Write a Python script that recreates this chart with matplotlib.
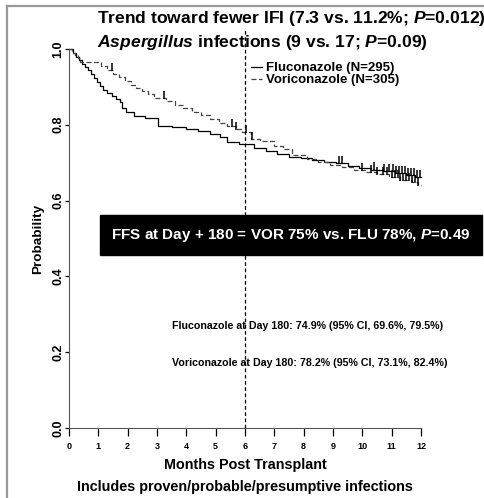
import numpy as np
import matplotlib
matplotlib.use('Agg')
import matplotlib.pyplot as plt
from matplotlib.lines import Line2D

plt.rcParams['font.family'] = ['Liberation Sans', 'DejaVu Sans']
plt.rcParams['font.weight'] = 'bold'
plt.rcParams['axes.labelweight'] = 'bold'
plt.rcParams['mathtext.fontset'] = 'custom'
plt.rcParams['mathtext.rm'] = 'Liberation Sans:bold'
plt.rcParams['mathtext.it'] = 'Liberation Sans:italic:bold'
plt.rcParams['mathtext.bf'] = 'Liberation Sans:bold'

# Kaplan-Meier steps
flu_time = [0, 0.15, 0.25, 0.35, 0.45, 0.55, 0.65, 0.75, 0.85, 0.95, 1.05, 1.15, 1.3, 1.45,
            1.6, 1.75, 1.8, 1.95, 2.2, 2.6, 3.05, 3.5, 4.0, 4.4, 4.8, 5.15, 5.4, 5.8, 6.3,
            6.7, 7.1, 7.5, 7.9, 8.3, 8.7, 9.1, 9.5, 9.9, 10.3, 10.7, 11.1, 11.5, 11.8, 12.0]
flu_surv = [1.0, 0.99, 0.98, 0.97, 0.96, 0.952, 0.945, 0.935, 0.923, 0.912, 0.902, 0.892,
            0.885, 0.876, 0.868, 0.86, 0.845, 0.835, 0.823, 0.818, 0.797, 0.794, 0.79, 0.783,
            0.775, 0.768, 0.755, 0.749, 0.738, 0.732, 0.724, 0.716, 0.712, 0.707, 0.702,
            0.698, 0.692, 0.686, 0.682, 0.678, 0.672, 0.667, 0.662, 0.662]
vor_time = [0, 0.1, 0.2, 0.3, 0.37, 1.1, 1.3, 1.5, 1.7, 1.9, 2.1, 2.3, 2.5, 2.7, 2.9, 3.3,
            3.6, 3.9, 4.2, 4.5, 4.8, 5.1, 5.4, 5.7, 5.9, 6.2, 6.5, 7.0, 7.3, 7.6, 8.1, 8.5,
            8.9, 9.3, 9.7, 10.1, 10.5, 10.9, 11.3, 11.7, 11.9, 12.0]
vor_surv = [1.0, 0.99, 0.985, 0.975, 0.966, 0.955, 0.945, 0.935, 0.925, 0.915, 0.905, 0.897,
            0.889, 0.88, 0.87, 0.862, 0.853, 0.845, 0.835, 0.825, 0.815, 0.806, 0.797, 0.79,
            0.782, 0.762, 0.757, 0.745, 0.735, 0.72, 0.71, 0.703, 0.695, 0.688, 0.68, 0.675,
            0.669, 0.662, 0.655, 0.648, 0.642, 0.642]
flu_cens = [9.2, 9.3, 10.4, 10.75, 10.9, 11.05, 11.15, 11.25, 11.35, 11.45, 11.55, 11.65,
            11.75, 11.85, 11.95]
vor_cens = [1.45, 3.25, 5.55, 5.7, 6.05, 6.25, 10.0, 10.3, 10.5, 10.7, 10.85, 11.0, 11.1,
            11.2, 11.3, 11.4, 11.5, 11.6, 11.7, 11.8, 11.9]
x_ticks = list(range(13))
y_ticks = [0.0, 0.2, 0.4, 0.6, 0.8, 1.0]
labels = ['Fluconazole (N=295)', 'Voriconazole (N=305)']

W, H = 485, 498


def fx(x):
    return x / W


def fy(y):
    return 1 - y / H


def surv_at(times, surv, t):
    i = np.searchsorted(times, t, side='right') - 1
    return np.array(surv)[i]


fig = plt.figure(figsize=(W / 100, H / 100), dpi=100)
ax = fig.add_axes([fx(69), fy(428), (421 - 69) / W, (428 - 49) / H])

ax.step(flu_time, flu_surv, where='post', color='black', lw=0.9, clip_on=False, label=labels[0])
ax.step(vor_time, vor_surv, where='post', color='#444444', lw=0.9, dashes=(4, 2),
        clip_on=False, label=labels[1])
ax.plot(flu_cens, surv_at(flu_time, flu_surv, flu_cens) + 0.008, ls='none', marker='|',
        ms=6, mew=1.1, color='black', clip_on=False)
ax.plot(vor_cens, surv_at(vor_time, vor_surv, vor_cens) + 0.008, ls='none', marker='|',
        ms=6, mew=1.1, color='black', clip_on=False)

ax.plot([6, 6], [0, 1.055], color='black', lw=0.9, dashes=(3, 2), clip_on=False)

ax.set_xlim(0, 12)
ax.set_ylim(0, 1)
for s in ['top', 'right']:
    ax.spines[s].set_visible(False)
ax.spines['left'].set_color('#555555')
ax.spines['bottom'].set_color('#555555')
ax.spines['left'].set_linewidth(0.8)
ax.spines['bottom'].set_linewidth(0.8)

ax.set_xticks(x_ticks)
ax.set_xticklabels([str(t) for t in x_ticks], fontsize=6.5, fontweight='bold')
ax.set_yticks(y_ticks)
ax.set_yticklabels(['%.1f' % v for v in y_ticks], fontsize=9, rotation=90, va='center',
                   fontweight='bold')
ax.tick_params(axis='x', length=6, width=0.9, pad=4)
ax.tick_params(axis='y', length=3, width=0.9, pad=0.5)

ax.set_xlabel('Months Post Transplant', fontsize=10.4, fontweight='bold', labelpad=5)
ax.set_ylabel('Probability', fontsize=9.7, fontweight='bold', labelpad=6)

leg = ax.legend(loc='upper left', bbox_to_anchor=(fx(251), fy(62)), bbox_transform=fig.transFigure,
                frameon=False, fontsize=9.5, handlelength=0.85, handletextpad=0.3,
                labelspacing=0.0, borderpad=0, borderaxespad=0)

fig.text(fx(97), fy(18), 'Trend toward fewer IFI (7.3 vs. 11.2%; $P$=0.012)', fontsize=12.6,
         va='center', ha='left')
fig.text(fx(97), fy(42), '$Aspergillus$ infections (9 vs. 17; $P$=0.09)', fontsize=12.6,
         va='center', ha='left')

fig.text(fx(291), fy(235), 'FFS at Day + 180 = VOR 75% vs. FLU 78%, $P$=0.49', fontsize=11,
         color='white', ha='center', va='center',
         bbox=dict(boxstyle='square,pad=0.75', facecolor='black', edgecolor='black'))

fig.text(fx(172), fy(326), 'Fluconazole at Day 180: 74.9% (95% CI, 69.6%, 79.5%)',
         fontsize=7.7, ha='left', va='center')
fig.text(fx(172), fy(363), 'Voriconazole at Day 180: 78.2% (95% CI, 73.1%, 82.4%)',
         fontsize=7.7, ha='left', va='center')

fig.text(fx(245), fy(487), 'Includes proven/probable/presumptive infections', fontsize=10.4,
         ha='center', va='center')

fig.add_artist(Line2D([fx(7), fx(7)], [0, fy(6)], color='#999999', lw=1.6))
fig.add_artist(Line2D([fx(7), 1], [fy(6), fy(6)], color='#999999', lw=1.6))

fig.savefig('out.png', dpi=100)
